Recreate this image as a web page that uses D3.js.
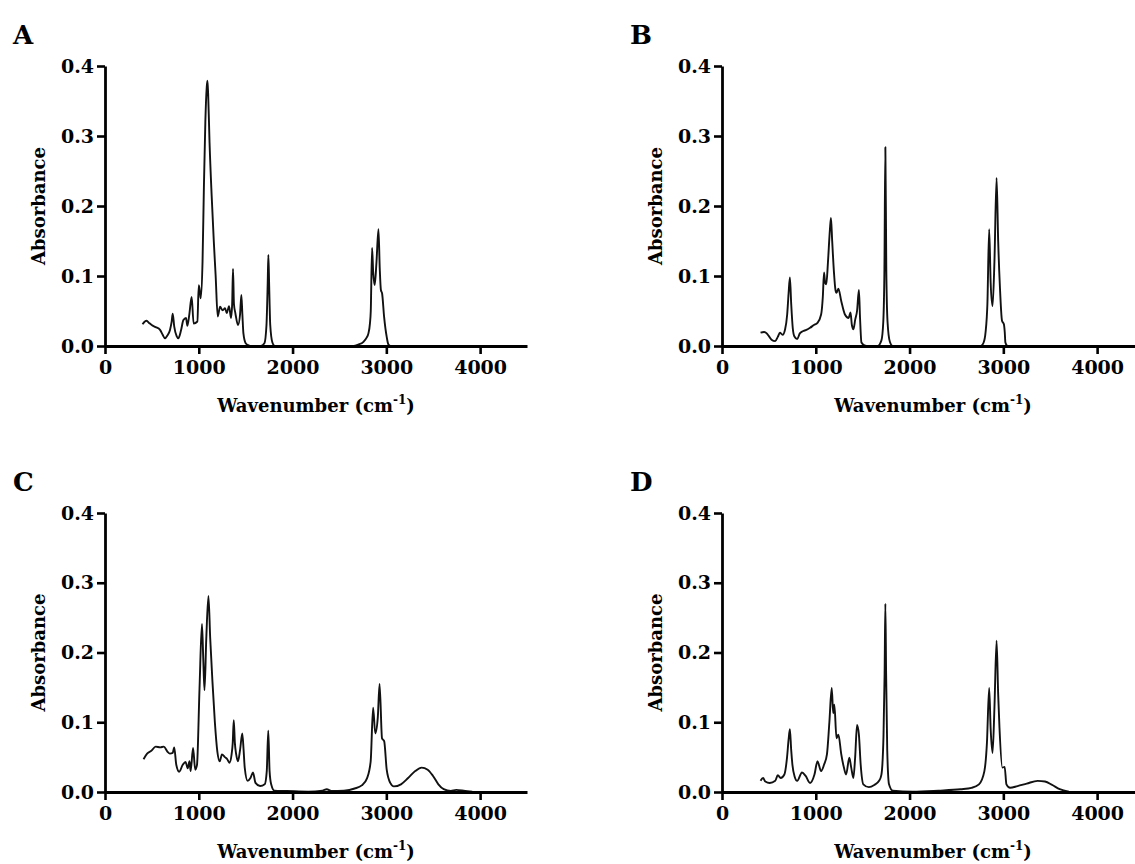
<!DOCTYPE html>
<html>
<head>
<meta charset="utf-8">
<script src="https://cdn.jsdelivr.net/npm/d3@7"></script>
<style>
    body { margin: 0; background: #fff; }
    svg text { font-family: "DejaVu Serif", "Liberation Serif", serif; font-weight: bold; fill: #000; }
</style>
</head>
<body>
<svg id="chart"></svg>
<script>
// spectra: [wavenumber, absorbance]
let spectrumA = [[400,0.031],[425,0.035],[444,0.036],[470,0.033],[498,0.030],[540,0.027],[587,0.023],[615,0.016],[640,0.011],[665,0.015],[693,0.023],[710,0.034],[722,0.046],[738,0.028],[764,0.014],[782,0.011],[810,0.022],[836,0.037],[864,0.040],[878,0.029],[900,0.046],[924,0.070],[945,0.032],[985,0.035],[1000,0.087],[1012,0.078],[1020,0.068],[1040,0.12],[1055,0.23],[1070,0.32],[1085,0.37],[1092,0.379],[1100,0.36],[1115,0.29],[1138,0.213],[1160,0.15],[1180,0.10],[1202,0.042],[1227,0.056],[1255,0.051],[1280,0.054],[1298,0.047],[1323,0.057],[1344,0.040],[1356,0.06],[1365,0.11],[1375,0.06],[1390,0.047],[1419,0.030],[1440,0.045],[1454,0.073],[1465,0.045],[1476,0.018],[1500,0.004],[1530,0.001],[1564,0],[1660,0],[1700,0.004],[1722,0.03],[1735,0.09],[1742,0.13],[1750,0.09],[1762,0.03],[1785,0.005],[1810,0],[2650,0],[2700,0.002],[2756,0.006],[2790,0.012],[2809,0.018],[2825,0.032],[2834,0.05],[2848,0.14],[2860,0.105],[2876,0.087],[2895,0.12],[2916,0.167],[2930,0.11],[2942,0.08],[2955,0.075],[2976,0.042],[3004,0.013],[3022,0.002],[3040,0]];

let spectrumB = [[411,0.019],[450,0.020],[477,0.018],[500,0.014],[528,0.009],[568,0.007],[595,0.013],[618,0.019],[646,0.016],[673,0.024],[695,0.045],[710,0.075],[724,0.098],[738,0.06],[755,0.025],[771,0.014],[802,0.010],[830,0.018],[861,0.021],[900,0.023],[939,0.026],[980,0.030],[1018,0.033],[1057,0.045],[1075,0.07],[1088,0.105],[1100,0.09],[1112,0.088],[1130,0.12],[1150,0.165],[1162,0.183],[1175,0.15],[1194,0.105],[1210,0.08],[1221,0.076],[1241,0.082],[1272,0.064],[1311,0.045],[1350,0.040],[1370,0.048],[1385,0.03],[1401,0.024],[1421,0.038],[1440,0.05],[1460,0.080],[1472,0.04],[1487,0.005],[1519,0.001],[1560,0],[1660,0],[1700,0.008],[1720,0.035],[1732,0.11],[1742,0.284],[1752,0.11],[1765,0.035],[1790,0.006],[1820,0],[2760,0],[2790,0.005],[2810,0.019],[2830,0.06],[2849,0.167],[2865,0.09],[2885,0.057],[2905,0.12],[2928,0.24],[2945,0.15],[2963,0.086],[2986,0.036],[3006,0.031],[3015,0.02],[3022,0.005],[3041,0]];

let spectrumC = [[411,0.047],[449,0.055],[494,0.059],[540,0.065],[589,0.064],[627,0.065],[665,0.058],[692,0.055],[722,0.056],[738,0.064],[760,0.039],[791,0.029],[829,0.039],[859,0.043],[882,0.034],[901,0.044],[913,0.030],[939,0.063],[962,0.032],[981,0.039],[1008,0.149],[1034,0.241],[1048,0.19],[1061,0.146],[1080,0.22],[1103,0.281],[1122,0.22],[1145,0.16],[1171,0.101],[1198,0.058],[1224,0.044],[1247,0.054],[1278,0.050],[1304,0.047],[1327,0.042],[1350,0.054],[1362,0.07],[1373,0.103],[1385,0.07],[1399,0.054],[1418,0.044],[1440,0.06],[1464,0.084],[1478,0.06],[1490,0.035],[1521,0.016],[1551,0.020],[1578,0.028],[1605,0.013],[1654,0.0085],[1703,0.011],[1725,0.03],[1741,0.088],[1755,0.03],[1772,0.011],[1806,0.002],[1939,0.0015],[2167,0.0005],[2319,0.002],[2365,0.004],[2414,0.0015],[2548,0.002],[2662,0.005],[2738,0.0095],[2795,0.020],[2833,0.044],[2859,0.121],[2882,0.084],[2909,0.107],[2928,0.155],[2954,0.077],[2977,0.073],[3004,0.032],[3042,0.013],[3080,0.008],[3156,0.011],[3232,0.020],[3308,0.030],[3376,0.035],[3441,0.032],[3498,0.023],[3555,0.011],[3612,0.004],[3688,0.0015],[3745,0.003],[3840,0.0015],[3916,0.0005]];

let spectrumD = [[411,0.016],[438,0.020],[462,0.015],[509,0.013],[568,0.016],[595,0.024],[626,0.020],[665,0.025],[693,0.049],[710,0.075],[724,0.090],[738,0.06],[751,0.039],[775,0.022],[802,0.016],[853,0.028],[892,0.023],[939,0.013],[986,0.025],[1018,0.044],[1057,0.030],[1088,0.039],[1119,0.054],[1145,0.1],[1170,0.149],[1186,0.113],[1198,0.125],[1221,0.077],[1241,0.082],[1272,0.054],[1300,0.035],[1323,0.025],[1358,0.049],[1378,0.035],[1401,0.020],[1420,0.05],[1440,0.096],[1460,0.082],[1479,0.039],[1507,0.011],[1566,0.007],[1624,0.010],[1675,0.016],[1700,0.025],[1722,0.08],[1734,0.17],[1742,0.27],[1750,0.17],[1762,0.06],[1781,0.011],[1820,0.002],[2035,0.0005],[2309,0.002],[2544,0.004],[2661,0.006],[2740,0.011],[2798,0.030],[2825,0.07],[2849,0.149],[2865,0.09],[2885,0.056],[2905,0.12],[2928,0.217],[2945,0.14],[2959,0.092],[2990,0.035],[3014,0.036],[3033,0.011],[3072,0.006],[3151,0.0085],[3249,0.012],[3366,0.016],[3444,0.015],[3523,0.010],[3601,0.004],[3699,0.0005]];

let panelLabels = ["A", "B", "C", "D"];
let xTicks = [0, 1000, 2000, 3000, 4000];
let yTicks = [0, 0.1, 0.2, 0.3, 0.4];

let width = 1135;
let height = 864;
let serif = "'DejaVu Serif', 'Liberation Serif', serif";

let svg = d3.select("#chart")
    .attr("width", width)
    .attr("height", height);

// положение панелей: левый край оси X, верх и низ оси Y
let panels = [
    {label: panelLabels[0], data: spectrumA, left: 105, top: 66,  bottom: 346},
    {label: panelLabels[1], data: spectrumB, left: 722, top: 66,  bottom: 346},
    {label: panelLabels[2], data: spectrumC, left: 105, top: 513, bottom: 792},
    {label: panelLabels[3], data: spectrumD, left: 722, top: 513, bottom: 792}
];

function drawPanel(p) {
    let axisLen = 422;
    let scaleX = d3.scaleLinear().domain([0, 4500]).range([p.left, p.left + axisLen]);
    let scaleY = d3.scaleLinear().domain([0, 0.4]).range([p.bottom, p.top]);

    let g = svg.append("g");

    // спектр
    let line = d3.line()
        .x(d => scaleX(d[0]))
        .y(d => scaleY(d[1]))
        .curve(d3.curveMonotoneX);
    g.append("path")
        .datum(p.data)
        .attr("d", line)
        .attr("fill", "none")
        .attr("stroke", "#111")
        .attr("stroke-width", 1.9)
        .attr("stroke-linejoin", "round");

    // ось X
    let axisX = d3.axisBottom(scaleX)
        .tickValues(xTicks)
        .tickFormat(d3.format("d"))
        .tickSize(8)
        .tickSizeOuter(0)
        .tickPadding(7);
    let gx = g.append("g")
        .attr("transform", `translate(0, ${p.bottom})`)
        .call(axisX);

    // ось Y
    let axisY = d3.axisLeft(scaleY)
        .tickValues(yTicks)
        .tickFormat(d3.format(".1f"))
        .tickSize(8)
        .tickSizeOuter(0)
        .tickPadding(3);
    let gy = g.append("g")
        .attr("transform", `translate(${p.left}, 0)`)
        .call(axisY);

    [gx, gy].forEach(a => {
        a.attr("font-family", null);
        a.select(".domain").attr("stroke", "#000").attr("stroke-width", 2.8);
        a.selectAll(".tick line").attr("stroke", "#000").attr("stroke-width", 2.6);
        a.selectAll(".tick text")
            .attr("fill", "#000")
            .style("font-family", serif)
            .style("font-weight", "bold")
            .style("font-size", "19px");
    });

    // подписи осей
    g.append("text")
        .attr("transform", `translate(${p.left - 60}, ${(p.top + p.bottom) / 2}) rotate(-90)`)
        .attr("text-anchor", "middle")
        .style("font-size", "18px")
        .text("Absorbance");

    let xTitle = g.append("text")
        .attr("x", p.left + axisLen / 2)
        .attr("y", p.bottom + 66)
        .attr("text-anchor", "middle")
        .style("font-size", "18px");
    xTitle.append("tspan").text("Wavenumber (cm");
    xTitle.append("tspan").attr("dy", -8).style("font-size", "12px").text("-1");
    xTitle.append("tspan").attr("dy", 8).text(")");

    // буква панели
    g.append("text")
        .attr("x", p.left - 92)
        .attr("y", p.top - 22)
        .style("font-size", "26px")
        .text(p.label);
}

panels.forEach(drawPanel);
</script>
</body>
</html>
